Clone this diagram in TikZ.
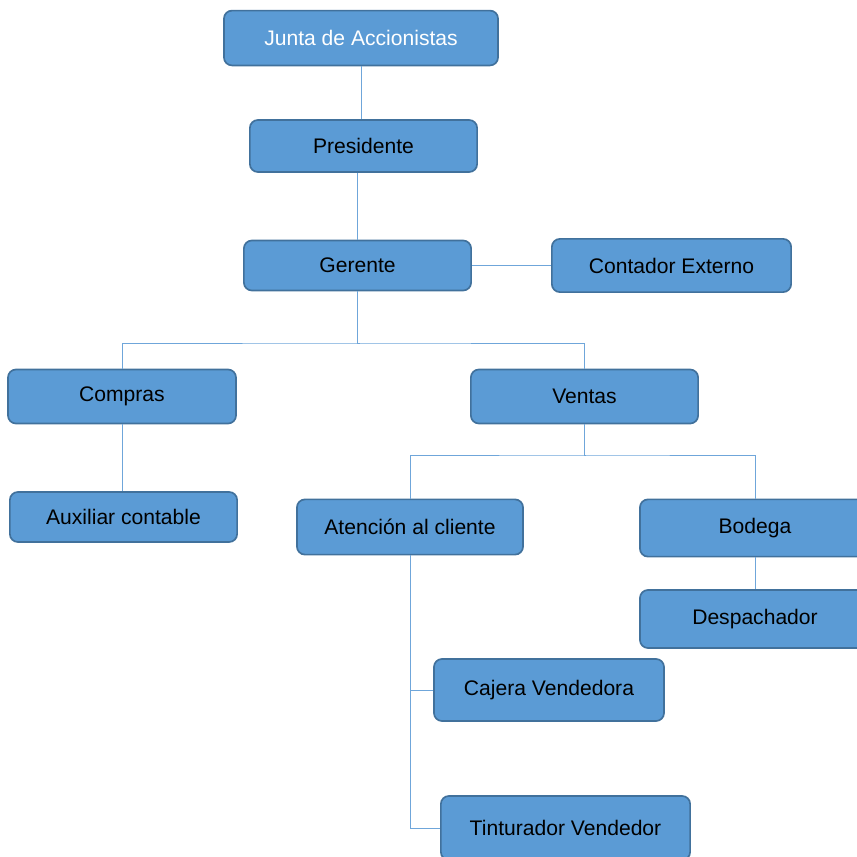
\documentclass[tikz,border=0pt]{standalone}
\usepackage{fontspec}
\setmainfont{Liberation Sans}
\definecolor{boxfill}{HTML}{5B9BD5}
\definecolor{boxline}{HTML}{41719C}
\definecolor{linkcol}{HTML}{6FA6DA}
\begin{document}
\begin{tikzpicture}[x=0.025cm,y=-0.025cm,
	box/.style={draw=boxline, fill=boxfill, line width=1.2pt, rounded corners=0.2cm,
		font=\fontsize{15}{18}\selectfont, inner sep=0pt},
	link/.style={draw=linkcol, line width=0.7pt}]
	% Frame
	\useasboundingbox (0,0) rectangle (857,857);
	\clip (0,0) rectangle (857,857);
	
	% Boxes
	\node[box, text=white, minimum width=6.85cm, minimum height=1.37cm] (junta) at (361,38) {Junta de Accionistas};
	\node[box, minimum width=5.68cm, minimum height=1.3cm] (pres) at (363.5,146) {Presidente};
	\node[box, minimum width=5.68cm, minimum height=1.25cm] (ger) at (357.5,265.5) {Gerente};
	\node[box, minimum width=5.98cm, minimum height=1.33cm] (cont) at (671.5,265.5) {Contador Externo};
	\node[box, minimum width=5.7cm, minimum height=1.35cm] (comp) at (122,396.5) {Compras};
	\node[box, minimum width=5.68cm, minimum height=1.35cm] (vent) at (584.5,396.5) {Ventas};
	\node[box, minimum width=5.68cm, minimum height=1.25cm] (aux) at (123.5,517) {Auxiliar contable};
	\node[box, minimum width=5.65cm, minimum height=1.38cm] (aten) at (410,527) {Atención al cliente};
	\node[box, minimum width=5.75cm, minimum height=1.43cm] (bod) at (755,528) {Bodega};
	\node[box, minimum width=5.75cm, minimum height=1.45cm] (desp) at (755,619) {Despachador};
	\node[box, minimum width=5.75cm, minimum height=1.55cm] (caj) at (549,690) {Cajera Vendedora};
	\node[box, minimum width=6.23cm, minimum height=1.6cm] (tint) at (565.5,828) {Tinturador Vendedor};
	
	% Bus points
	\coordinate (bus1) at (360,343);
	\coordinate (bus2) at (586,455);
	
	% Links
	\draw[link] (junta.south) -- (junta.south |- pres.north);
	\draw[link] (ger.north |- pres.south) -- (ger.north);
	\draw[link] (ger) -- (cont);
	\draw[link] (ger.south) |- (bus1);
	\draw[link] (comp.north) |- (bus1) -| (vent.north);
	\draw[link] (comp.south) -- (comp.south |- aux.north);
	\draw[link] (vent.south) |- (bus2);
	\draw[link] (aten.north) |- (bus2) -| (bod.north);
	\draw[link] (bod) -- (desp);
	\draw[link] (aten.south) |- (caj.west);
	\draw[link] (aten.south) |- (tint.west);
\end{tikzpicture}
\end{document}
